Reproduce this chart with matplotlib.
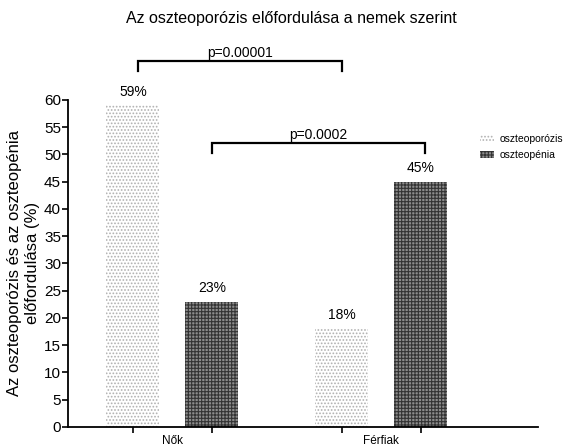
import matplotlib
matplotlib.use("Agg")
import matplotlib.pyplot as plt
import numpy as np

plt.rcParams['font.family'] = ['Liberation Sans', 'DejaVu Sans']
plt.rcParams['hatch.linewidth'] = 0.8

groups = ['Nők', 'Férfiak']
series = ['oszteoporózis', 'oszteopénia']
osteoporosis = [59, 18]
osteopenia = [23, 45]
pvals = ['p=0.00001', 'p=0.0002']

fig = plt.figure(figsize=(5.76, 4.48), dpi=100)
ax = fig.add_axes([0.118, 0.047, 0.816, 0.73])

g = np.arange(len(groups))
off = 0.189
w = 0.254
b1 = ax.bar(g - off, osteoporosis, w, facecolor='white', edgecolor='#b0b0b0',
            hatch='.....', linewidth=0, label=series[0])
b2 = ax.bar(g + off, osteopenia, w, facecolor='#8c8c8c', edgecolor='#333333',
            hatch='+++++', linewidth=0, label=series[1])

for bars, vals in ((b1, osteoporosis), (b2, osteopenia)):
    for r, v in zip(bars, vals):
        ax.text(r.get_x() + r.get_width() / 2, v + 1.2, f'{v}%',
                ha='center', va='bottom', fontsize=10)

# significance brackets
def bracket(x0, x1, y, h, txt):
    ax.plot([x0, x0, x1, x1], [y - h, y, y, y - h], color='black', lw=1.6,
            clip_on=False, solid_joinstyle='miter')
    ax.text((x0 + x1) / 2, y + 0.2, txt, ha='center', va='bottom', fontsize=10)

bracket(g[0] - off + 0.025, g[1] - off, 67.2, 1.9, pvals[0])
bracket(g[0] + off, g[1] + off + 0.02, 52.1, 1.8, pvals[1])

ax.set_xlim(-0.5, 1.75)
ax.set_ylim(0, 60)
ax.set_yticks(np.arange(0, 61, 5))
ax.set_xticks(np.concatenate([g - off, g + off]))
ax.set_xticklabels([])
ax.set_xticks(g, minor=True)
ax.set_xticklabels(groups, minor=True, fontsize=8.5)
ax.tick_params(axis='x', which='minor', length=0, pad=6)
ax.tick_params(axis='x', which='major', length=4, width=1.2)
ax.tick_params(axis='y', length=4, width=1.2, labelsize=11, pad=1)
for s in ('top', 'right'):
    ax.spines[s].set_visible(False)
for s in ('left', 'bottom'):
    ax.spines[s].set_linewidth(1.3)

ax.set_ylabel('Az oszteoporózis és az oszteopénia\nelőfordulása (%)',
              fontsize=12, linespacing=1.2, labelpad=3)

fig.suptitle('Az oszteoporózis előfordulása a nemek szerint', x=0.505, y=0.975,
             fontsize=11.5)

fig.legend(loc='upper left', bbox_to_anchor=(0.83, 0.705), frameon=False,
           fontsize=7.5, handlelength=1.3, handleheight=0.6, handletextpad=0.6,
           labelspacing=0.55, borderaxespad=0, borderpad=0.2)

fig.savefig('out.png', dpi=100)
